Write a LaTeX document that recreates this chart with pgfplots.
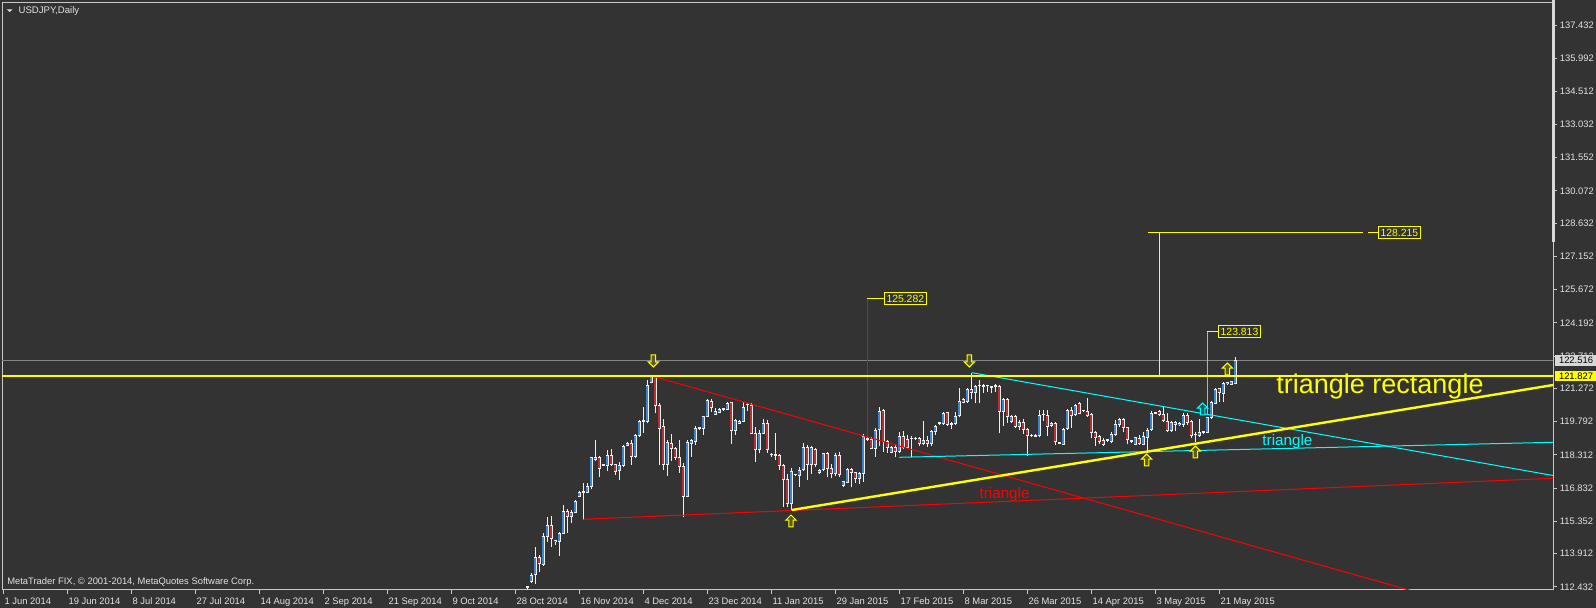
\documentclass[border=0pt]{standalone}
\usepackage{fontspec}
\setmainfont{Liberation Sans}
\usepackage{pgfplots}
\pgfplotsset{compat=1.18}
\usepackage{pgfplotstable}

\definecolor{bgc}{HTML}{333333}
\definecolor{frm}{HTML}{C8C8C8}
\definecolor{txt}{HTML}{E2E2E2}
\definecolor{bull}{HTML}{3A86D0}
\definecolor{bear}{HTML}{B83030}
\definecolor{wick}{HTML}{EEEEEE}
\definecolor{myyel}{HTML}{FFFF00}
\definecolor{mycyan}{HTML}{00FFFF}
\definecolor{myred}{HTML}{FF0000}
\definecolor{grayln}{HTML}{858585}
\definecolor{arrfill}{HTML}{5C5C1E}
\definecolor{arrfillc}{HTML}{1E5C5C}
\definecolor{boxgray}{HTML}{D8D8D8}

\pgfdeclareplotmark{uarr}{%
 \pgfpathmoveto{\pgfqpoint{0pt}{3pt}}%
 \pgfpathlineto{\pgfqpoint{2.6pt}{0.4pt}}%
 \pgfpathlineto{\pgfqpoint{1.1pt}{0.4pt}}%
 \pgfpathlineto{\pgfqpoint{1.1pt}{-3pt}}%
 \pgfpathlineto{\pgfqpoint{-1.1pt}{-3pt}}%
 \pgfpathlineto{\pgfqpoint{-1.1pt}{0.4pt}}%
 \pgfpathlineto{\pgfqpoint{-2.6pt}{0.4pt}}%
 \pgfpathclose
 \pgfusepathqfillstroke}
\pgfdeclareplotmark{darr}{%
 \pgfpathmoveto{\pgfqpoint{0pt}{-3pt}}%
 \pgfpathlineto{\pgfqpoint{2.6pt}{-0.4pt}}%
 \pgfpathlineto{\pgfqpoint{1.1pt}{-0.4pt}}%
 \pgfpathlineto{\pgfqpoint{1.1pt}{3pt}}%
 \pgfpathlineto{\pgfqpoint{-1.1pt}{3pt}}%
 \pgfpathlineto{\pgfqpoint{-1.1pt}{-0.4pt}}%
 \pgfpathlineto{\pgfqpoint{-2.6pt}{-0.4pt}}%
 \pgfpathclose
 \pgfusepathqfillstroke}

\pgfplotstableread{
n o h l c
131 112.380 112.470 112.300 112.440
132 112.665 113.037 112.591 112.962
133 112.962 114.195 112.561 113.750
134 113.750 113.854 113.111 113.452
135 113.423 114.848 113.363 114.700
136 114.670 115.561 114.447 115.190
137 115.190 115.591 114.225 114.596
138 114.522 114.540 114.299 114.447
139 114.447 114.863 113.824 114.819
140 114.819 116.081 114.789 115.814
141 115.814 115.888 114.848 115.561
142 115.561 115.858 115.264 115.769
143 115.739 116.303 115.710 116.259
144 116.452 116.704 116.422 116.630
145 116.630 117.046 115.413 116.645
146 116.645 117.076 116.630 116.897
147 116.897 118.234 116.779 118.189
148 118.086 118.976 118.056 118.204
149 118.204 118.264 117.313 117.714
150 117.863 117.892 117.818 117.850
151 117.833 118.531 117.610 118.308
152 118.308 118.561 117.818 117.892
153 117.892 117.900 117.417 117.566
154 117.595 118.011 117.194 117.863
155 117.833 118.754 117.788 118.679
156 118.724 118.902 118.709 118.828
157 118.828 118.976 117.863 118.234
158 118.234 119.244 118.189 119.199
159 119.155 119.867 119.095 119.823
160 119.800 120.461 119.303 119.793
161 119.793 121.649 119.720 121.426
162 121.530 121.830 121.500 121.798
163 121.798 121.820 120.164 120.506
164 120.506 120.640 117.863 119.496
165 119.570 119.897 117.640 117.863
166 117.863 118.976 117.373 118.857
167 118.828 119.244 118.056 118.605
168 118.605 118.650 118.086 118.204
169 118.204 118.976 117.521 117.788
170 117.788 117.937 115.531 116.452
171 116.452 118.976 116.422 118.857
172 118.828 119.006 118.234 118.947
173 118.902 119.600 118.754 119.496
174 119.500 119.550 119.420 119.480
175 119.496 120.046 119.200 120.016
176 120.016 120.788 119.987 120.729
177 120.684 120.788 120.239 120.432
178 120.120 120.387 120.090 120.239
179 120.194 120.417 120.165 120.358
180 120.343 120.387 120.283 120.350
181 120.343 120.684 120.313 120.610
182 120.655 120.684 118.799 119.393
183 119.393 119.897 119.200 119.868
184 119.719 119.868 119.690 119.823
185 119.793 120.655 119.764 120.432
186 120.540 120.640 120.283 120.550
187 120.536 120.610 119.229 119.274
188 119.274 119.541 118.012 118.561
189 118.531 119.422 118.383 119.274
190 119.274 119.897 119.244 119.719
191 119.719 119.868 118.412 118.531
192 118.310 118.383 118.205 118.300
193 118.310 119.303 118.086 118.290
194 118.309 118.353 117.640 117.819
195 117.863 117.908 116.007 117.195
196 117.225 117.462 115.977 116.155
197 116.155 117.715 115.870 117.566
198 117.420 117.462 117.373 117.440
199 117.373 117.759 116.898 117.640
200 117.640 118.858 117.611 118.650
201 118.650 118.754 117.195 117.863
202 117.863 118.709 117.462 118.650
203 118.561 118.605 117.789 117.863
204 117.520 117.670 117.462 117.640
205 117.640 118.412 117.611 118.383
206 118.383 118.457 117.314 117.715
207 117.715 117.908 117.269 117.462
208 117.462 118.383 117.373 118.309
209 118.309 118.457 117.343 117.418
210 116.928 117.150 116.898 117.121
211 117.076 117.715 117.046 117.670
212 117.670 117.715 116.868 117.522
213 117.522 117.566 117.076 117.269
214 117.269 117.566 117.017 117.492
215 117.492 119.244 117.121 119.125
216 119.000 119.096 118.947 119.010
217 119.006 119.125 118.561 118.606
218 118.605 119.496 118.234 119.422
219 119.422 120.461 118.709 120.238
220 120.283 120.342 118.457 118.902
221 118.902 118.976 118.412 118.650
222 118.412 118.709 118.382 118.650
223 118.635 118.754 118.204 118.457
224 118.457 119.348 118.412 119.155
225 119.155 119.392 118.561 118.650
226 119.006 119.199 118.561 118.650
227 119.040 119.155 118.204 119.030
228 119.030 119.125 118.976 119.040
229 119.050 119.095 118.709 118.798
230 118.798 119.838 118.754 118.976
231 118.976 119.155 118.650 118.798
232 118.798 119.422 118.709 119.348
233 119.348 119.645 119.199 119.600
234 119.720 119.750 119.645 119.730
235 119.689 120.238 119.645 120.164
236 120.194 120.238 119.600 119.645
237 119.700 119.793 119.451 119.660
238 119.689 120.238 119.645 120.046
239 120.046 121.278 120.016 120.684
240 120.788 120.832 120.610 120.639
241 120.684 121.278 120.639 121.233
242 121.233 121.976 120.788 121.085
243 121.085 121.426 120.610 121.382
244 121.390 121.649 120.610 121.380
245 121.350 121.471 121.085 121.360
246 121.380 121.426 121.129 121.390
247 121.320 121.382 121.055 121.330
248 121.350 121.471 121.129 121.350
249 121.382 121.426 119.273 120.238
250 120.238 120.832 119.600 120.788
251 120.788 120.832 119.748 120.016
252 119.793 120.090 119.748 120.016
253 120.016 120.090 119.496 119.570
254 119.570 119.867 119.422 119.748
255 119.748 119.897 119.244 119.422
256 119.451 119.496 118.263 119.155
257 119.160 119.244 119.095 119.150
258 119.140 119.244 119.095 119.180
259 119.155 120.313 119.095 120.090
260 120.090 120.313 119.838 120.100
261 120.090 120.313 119.155 119.570
262 119.616 119.764 119.571 119.719
263 119.719 119.764 118.754 118.903
264 118.830 118.873 118.784 118.820
265 118.784 119.526 118.754 119.467
266 119.467 120.358 119.423 120.313
267 120.313 120.462 119.526 120.061
268 120.120 120.566 120.061 120.536
269 120.610 120.655 120.120 120.165
270 120.270 120.313 120.239 120.260
271 120.269 120.833 120.017 120.061
272 120.120 120.165 119.051 119.319
273 119.319 119.378 118.725 119.081
274 119.126 119.200 118.784 118.903
275 118.977 119.081 118.725 118.784
276 118.950 119.020 118.873 118.970
277 118.903 119.319 118.829 119.230
278 119.230 119.868 119.170 119.675
279 119.645 119.972 119.571 119.913
280 119.913 119.972 119.319 119.527
281 119.527 119.571 118.784 118.977
282 118.900 118.980 118.830 118.910
283 118.784 119.126 118.754 119.081
284 119.051 119.200 118.754 118.829
285 118.784 119.319 118.754 119.126
286 119.081 119.497 118.457 119.423
287 119.423 120.269 119.378 120.165
288 120.170 120.239 120.120 120.160
289 120.239 120.313 120.061 120.120
290 120.120 120.507 119.764 119.823
291 119.823 120.165 119.319 119.378
292 119.378 119.823 119.319 119.764
293 119.764 119.823 119.378 119.645
294 119.645 119.764 119.616 119.719
295 119.645 120.165 119.571 120.091
296 120.091 120.165 119.645 119.764
297 119.823 119.868 119.081 119.170
298 119.200 119.348 118.903 119.190
299 119.170 119.913 119.126 119.319
300 119.320 119.378 119.230 119.330
301 119.319 120.017 119.274 119.972
302 119.972 120.715 119.913 120.655
303 120.610 121.308 120.566 121.249
304 121.279 121.308 120.655 121.100
305 121.056 121.546 120.655 121.501
306 121.460 121.576 121.427 121.530
307 121.457 121.605 121.427 121.576
308 121.501 122.690 121.457 122.516
}\candles

\begin{document}
\begin{tikzpicture}
\fill[bgc] (0,0) rectangle (798pt,304pt);
\useasboundingbox (0,0) rectangle (798pt,304pt);
\begin{axis}[
 at={(1pt,9pt)}, anchor=south west,
 scale only axis, width=775.5pt, height=293.85pt,
 xmin=-0.25, xmax=387.5, ymin=112.295, ymax=138.475,
 axis line style={draw=frm, line width=0.5pt},
 tick align=outside, major tick length=2pt,
 tick style={draw=frm, line width=0.5pt},
 xtick pos=left, ytick pos=right, yticklabel pos=right,
 xtick={0,16,...,304},
 xticklabels={1 Jun 2014,19 Jun 2014,8 Jul 2014,27 Jul 2014,14 Aug 2014,2 Sep 2014,21 Sep 2014,9 Oct 2014,28 Oct 2014,16 Nov 2014,4 Dec 2014,23 Dec 2014,11 Jan 2015,29 Jan 2015,17 Feb 2015,8 Mar 2015,26 Mar 2015,14 Apr 2015,3 May 2015,21 May 2015},
 ytick={112.432,113.912,115.352,116.832,118.312,119.792,121.272,122.712,124.192,125.672,127.152,128.632,130.072,131.552,133.032,134.512,135.992,137.432},
 yticklabels={112.432,113.912,115.352,116.832,118.312,119.792,121.272,122.712,124.192,125.672,127.152,128.632,130.072,131.552,133.032,134.512,135.992,137.432},
 ticklabel style={font=\fontsize{4.7}{5.5}\selectfont, text=txt},
 xticklabel style={anchor=north west, inner xsep=0pt, xshift=0.6pt, yshift=1.8pt},
 yticklabel style={anchor=west, inner xsep=1.2pt},
 clip=true,
]
% bid line
\addplot[grayln, line width=0.5pt] coordinates {(-1,122.516) (400,122.516)};
% candles: wicks
\addplot[draw=none, mark=none, forget plot, error bars/.cd, y dir=plus, y explicit, error mark=none,
  error bar style={draw=wick, line width=0.5pt}]
  table[x=n, y=l, y error expr={\thisrow{h}-\thisrow{l}}] {\candles};
% bodies outline
\addplot[draw=none, mark=none, forget plot, error bars/.cd, y dir=plus, y explicit, error mark=none,
  error bar style={draw=wick, line width=1.5pt}]
  table[x=n, y expr={min(\thisrow{o},\thisrow{c})-0.011}, y error expr={max(abs(\thisrow{c}-\thisrow{o}),0.0445)+0.022}] {\candles};
% bull fill
\addplot[draw=none, mark=none, forget plot, error bars/.cd, y dir=plus, y explicit, error mark=none,
  error bar style={draw=bull, line width=0.55pt}]
  table[x=n, y expr={min(\thisrow{o},\thisrow{c})+0.0334}, y error expr={(\thisrow{c}>\thisrow{o})*max(abs(\thisrow{c}-\thisrow{o})-0.0668,0)}] {\candles};
% bear fill
\addplot[draw=none, mark=none, forget plot, error bars/.cd, y dir=plus, y explicit, error mark=none,
  error bar style={draw=bear, line width=0.55pt}]
  table[x=n, y expr={min(\thisrow{o},\thisrow{c})+0.0334}, y error expr={(\thisrow{c}<\thisrow{o})*max(abs(\thisrow{c}-\thisrow{o})-0.0668,0)}] {\candles};

% red lines
\addplot[myred, line width=0.5pt] coordinates {(162.5,121.81) (400,109.85)};
\addplot[myred, line width=0.5pt] coordinates {(145.08,115.444) (387.5,117.271)};
\addplot[myred, line width=0.5pt] coordinates {(216.0,119.116) (216.0,125.282)};
\addplot[myyel, line width=0.5pt] coordinates {(216.0,125.282) (220.25,125.282)};
% cyan lines
\addplot[mycyan, line width=0.5pt] coordinates {(242.2,121.975) (387.5,117.395)};
\addplot[mycyan, line width=0.5pt] coordinates {(224.1,118.206) (387.5,118.874)};
\addplot[mycyan, line width=0.5pt] coordinates {(301.1,120.117) (301.1,123.813)};
\addplot[myyel, line width=0.5pt] coordinates {(301.1,123.813) (303.8,123.813)};
% yellow projection
\addplot[myyel, line width=0.5pt] coordinates {(286.25,128.215) (340.0,128.215)};
\addplot[myyel, line width=0.5pt] coordinates {(289.1,121.827) (289.1,128.215)};
\addplot[myyel, line width=0.5pt] coordinates {(341.25,128.215) (343.75,128.215)};
% yellow lines
\addplot[myyel, line width=1.2pt] coordinates {(-1,121.827) (400,121.827)};
\addplot[myyel, line width=1.2pt] coordinates {(197.2,115.858) (387.5,121.426)};

% arrows
\addplot[only marks, mark=darr, mark options={draw=myyel, fill=arrfill, line width=0.5pt}]
  coordinates {(162.6,122.496) (241.6,122.496)};
\addplot[only marks, mark=uarr, mark options={draw=myyel, fill=arrfill, line width=0.5pt}]
  coordinates {(197.0,115.369) (285.9,118.086) (298.1,118.442) (306.1,122.140)};
\addplot[only marks, mark=uarr, mark options={draw=mycyan, fill=arrfillc, line width=0.5pt}]
  coordinates {(299.9,120.358)};

% labels
\node[draw=myyel, text=myyel, fill=bgc, anchor=west, font=\fontsize{5.2}{6}\selectfont, inner xsep=1pt, inner ysep=0.6pt, minimum height=6pt, line width=0.5pt] at (axis cs:220.25,125.282) {125.282};
\node[draw=myyel, text=myyel, fill=bgc, anchor=west, font=\fontsize{5.2}{6}\selectfont, inner xsep=1pt, inner ysep=0.6pt, minimum height=6pt, line width=0.5pt] at (axis cs:343.75,128.215) {128.215};
\node[draw=myyel, text=myyel, fill=bgc, anchor=west, font=\fontsize{5.2}{6}\selectfont, inner xsep=1pt, inner ysep=0.6pt, minimum height=6pt, line width=0.5pt] at (axis cs:303.8,123.813) {123.813};
\node[text=myyel, font=\fontsize{13.5}{16}\selectfont, anchor=base, inner sep=0pt] at (axis cs:344.25,121.07) {triangle rectangle};
\node[text=myred, font=\fontsize{7.6}{9}\selectfont, anchor=base, inner sep=0pt] at (axis cs:250.4,116.39) {triangle};
\node[text=mycyan, font=\fontsize{7.6}{9}\selectfont, anchor=base, inner sep=0pt] at (axis cs:321.1,118.71) {triangle};
\end{axis}
% scale handle on the price axis
\draw[draw=boxgray, line width=1.5pt] (776.65pt,304pt) -- (776.65pt,182.85pt);
% price boxes
\node[fill=boxgray, text=black, anchor=west, font=\fontsize{4.7}{5.5}\selectfont, minimum width=21pt, minimum height=5.4pt, inner sep=0pt] at (777.3pt,123.75pt) {122.516};
\node[fill=myyel, text=black, anchor=west, font=\fontsize{4.7}{5.5}\selectfont, minimum width=21pt, minimum height=5.4pt, inner sep=0pt] at (777.3pt,116.0pt) {121.827};
% title
\fill[txt] (3.35pt,299.35pt) -- (6.35pt,299.35pt) -- (4.85pt,298pt) -- cycle;
\node[text=txt, anchor=west, font=\fontsize{4.8}{5.5}\selectfont, inner sep=0pt] at (9.1pt,298.5pt) {USDJPY,Daily};
\node[text=txt, anchor=west, font=\fontsize{4.7}{5.5}\selectfont, inner sep=0pt] at (3.45pt,13pt) {MetaTrader FIX, © 2001-2014, MetaQuotes Software Corp.};
\end{tikzpicture}
\end{document}
